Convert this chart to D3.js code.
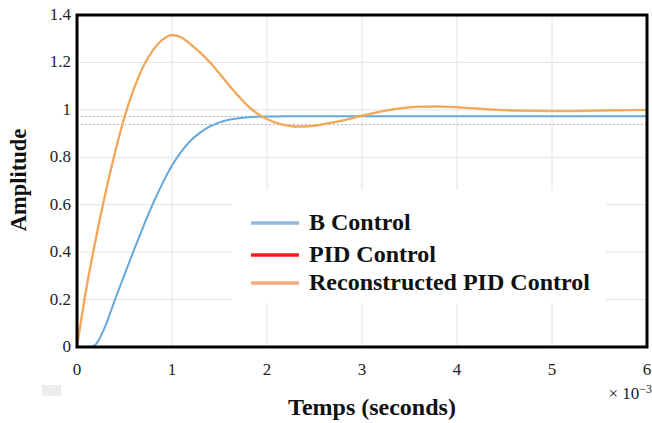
<!DOCTYPE html>
<html>
    <head>
        <meta charset="UTF-8">
        <script src="https://d3js.org/d3.v7.min.js"></script>
        <style>
            body { margin: 0; background: white; }
            svg text { font-family: "Liberation Serif", "Times New Roman", serif; }
            .tick-label { font-size: 17px; fill: #222; }
            .grid { stroke: #e2e2e2; stroke-width: 1px; }
            .ref-line { stroke: #9a9a9a; stroke-width: 1px; stroke-dasharray: 1.5,2.5; }
            .title { font-weight: bold; fill: #111; }
            .legend-text { font-weight: bold; font-size: 24px; fill: #111; }
        </style>
    </head>
    <body>
        <svg></svg>
        <script>
            // step responses, time in ms (x 10^-3 s)
            const timeB = [0, 0.1, 0.14, 0.2, 0.3, 0.4, 0.5, 0.6, 0.7, 0.8, 0.9, 1.0, 1.1, 1.2, 1.3, 1.4, 1.5, 1.6, 1.7, 1.8, 1.9, 2.0, 2.2, 3, 4, 5, 6];
            const ampB  = [0, 0, 0, 0.012, 0.09, 0.2, 0.305, 0.41, 0.51, 0.605, 0.69, 0.765, 0.825, 0.872, 0.905, 0.93, 0.947, 0.958, 0.965, 0.969, 0.971, 0.972, 0.973, 0.973, 0.973, 0.973, 0.973];

            const timePID = [0, 0.1, 0.2, 0.3, 0.4, 0.5, 0.6, 0.7, 0.8, 0.9, 1.0, 1.1, 1.2, 1.3, 1.4, 1.5, 1.6, 1.7, 1.8, 1.9, 2.0, 2.1, 2.2, 2.3, 2.4, 2.5, 2.6, 2.8, 3.0, 3.2, 3.4, 3.6, 3.8, 4.0, 4.3, 4.6, 5.0, 5.5, 6.0];
            const ampPID  = [0, 0.25, 0.46, 0.65, 0.82, 0.97, 1.09, 1.185, 1.252, 1.296, 1.315, 1.305, 1.275, 1.24, 1.2, 1.153, 1.104, 1.058, 1.016, 0.984, 0.961, 0.945, 0.935, 0.93, 0.93, 0.933, 0.94, 0.955, 0.975, 0.993, 1.006, 1.013, 1.014, 1.011, 1.003, 0.997, 0.995, 0.997, 1.0];
            const ampRec  = ampPID;

            const refLevels = [0.972, 0.938];
            const xTicks = [0, 1, 2, 3, 4, 5, 6];
            const yTicks = [0, 0.2, 0.4, 0.6, 0.8, 1, 1.2, 1.4];

            const legendNames  = ["B Control", "PID Control", "Reconstructed PID Control"];
            const legendColors = ["#8dbbe3", "#ff1a1a", "#f5ab7c"];

            const width = 652, height = 423;
            const svg = d3.select("svg").attr("width", width).attr("height", height);

            const x = d3.scaleLinear().domain([0, 6]).range([77, 647]);
            const y = d3.scaleLinear().domain([0, 1.4]).range([347, 15]);

            // grid
            svg.append("g").selectAll("line").data(xTicks).join("line")
                .attr("class", "grid")
                .attr("x1", d => x(d)).attr("x2", d => x(d))
                .attr("y1", y(0)).attr("y2", y(1.4));
            svg.append("g").selectAll("line").data(yTicks).join("line")
                .attr("class", "grid")
                .attr("x1", x(0)).attr("x2", x(6))
                .attr("y1", d => y(d)).attr("y2", d => y(d));

            // dotted reference levels
            svg.append("g").selectAll("line").data(refLevels).join("line")
                .attr("class", "ref-line")
                .attr("x1", x(0)).attr("x2", x(6))
                .attr("y1", d => y(d)).attr("y2", d => y(d));

            const line = d3.line()
                .x(d => x(d[0]))
                .y(d => y(d[1]))
                .curve(d3.curveMonotoneX);

            svg.append("path")
                .datum(d3.zip(timeB, ampB))
                .attr("d", line)
                .attr("fill", "none")
                .attr("stroke", "#64a9dc")
                .attr("stroke-width", 2);

            svg.append("path")
                .datum(d3.zip(timePID, ampPID))
                .attr("d", line)
                .attr("fill", "none")
                .attr("stroke", "#e8452a")
                .attr("stroke-width", 1.6);

            svg.append("path")
                .datum(d3.zip(timePID, ampRec))
                .attr("d", line)
                .attr("fill", "none")
                .attr("stroke", "#f3b660")
                .attr("stroke-opacity", 0.85)
                .attr("stroke-width", 2.4);

            // legend
            const legend = svg.append("g");
            legend.append("rect")
                .attr("x", 232).attr("y", 190)
                .attr("width", 374).attr("height", 113)
                .attr("fill", "white");
            const rows = legend.selectAll("g").data(legendNames).join("g")
                .attr("transform", (d, i) => `translate(0, ${[223, 255, 283][i]})`);
            rows.append("line")
                .attr("x1", 251).attr("x2", 299)
                .attr("y1", 0).attr("y2", 0)
                .attr("stroke", (d, i) => legendColors[i])
                .attr("stroke-width", 3.5);
            rows.append("text")
                .attr("class", "legend-text")
                .attr("x", 309).attr("y", 7)
                .text(d => d);

            // frame
            svg.append("rect")
                .attr("x", x(0)).attr("y", y(1.4))
                .attr("width", x(6) - x(0)).attr("height", y(0) - y(1.4))
                .attr("fill", "none")
                .attr("stroke", "black")
                .attr("stroke-width", 3);

            // tick labels
            svg.append("g").selectAll("text").data(yTicks).join("text")
                .attr("class", "tick-label")
                .attr("x", 71).attr("y", d => y(d) + 5)
                .attr("text-anchor", "end")
                .text(d => d);
            svg.append("g").selectAll("text").data(xTicks).join("text")
                .attr("class", "tick-label")
                .attr("x", d => x(d)).attr("y", 375)
                .attr("text-anchor", "middle")
                .text(d => d);

            const expo = svg.append("text")
                .attr("class", "tick-label")
                .attr("x", 652).attr("y", 399)
                .attr("text-anchor", "end");
            expo.append("tspan").text("\u00d7 10");
            expo.append("tspan").attr("dy", -6).attr("font-size", "12px").text("\u22123");

            // small grey box under the axis
            svg.append("rect")
                .attr("x", 42).attr("y", 385)
                .attr("width", 19).attr("height", 11)
                .attr("fill", "#ececec");

            // axis titles
            svg.append("text")
                .attr("class", "title")
                .attr("font-size", "24px")
                .attr("x", 372).attr("y", 415)
                .attr("text-anchor", "middle")
                .text("Temps (seconds)");
            svg.append("text")
                .attr("class", "title")
                .attr("font-size", "22.5px")
                .attr("transform", "translate(26, 180) rotate(-90)")
                .attr("text-anchor", "middle")
                .text("Amplitude");
        </script>
    </body>
</html>
